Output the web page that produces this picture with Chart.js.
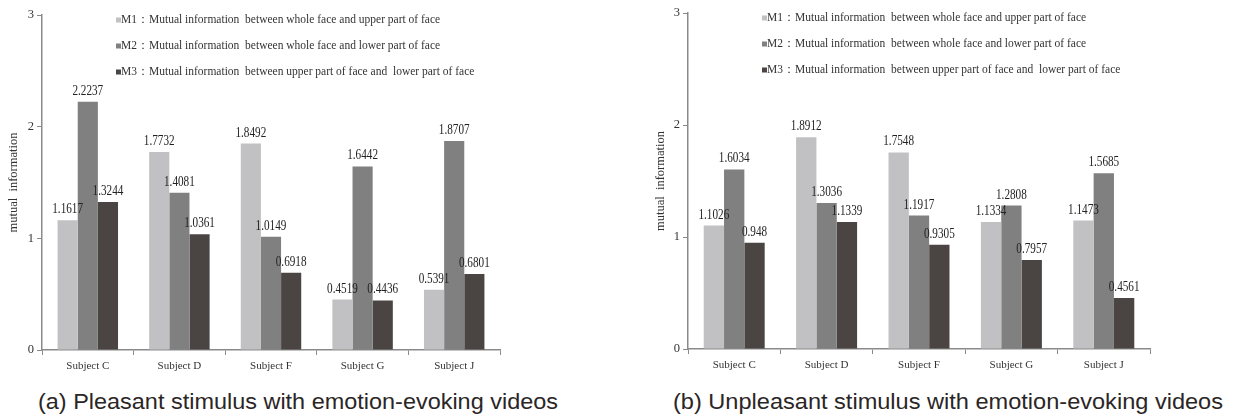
<!DOCTYPE html>
<html>
<head>
<meta charset="utf-8">
<script src="https://cdn.jsdelivr.net/npm/chart.js@4.4.1/dist/chart.umd.min.js"></script>
<style>
  html, body { margin: 0; padding: 0; background: #fff; }
  body { width: 1248px; height: 419px; position: relative; overflow: hidden; }
  .panel { position: absolute; top: 0; width: 624px; height: 380px; }
  .caption {
    position: absolute; top: 389px; white-space: nowrap;
    font-family: "Liberation Sans", Arial, sans-serif; font-size: 22px; line-height: 26px;
    color: #2b2626; transform-origin: left top;
  }
</style>
</head>
<body>
<div class="panel" style="left:0"><canvas id="pleasantChart" width="624" height="380"></canvas></div>
<div class="panel" style="left:624px"><canvas id="unpleasantChart" width="624" height="380"></canvas></div>
<div class="caption" id="capA" data-w="520" style="left:38px">(a) Pleasant stimulus with emotion-evoking videos</div>
<div class="caption" id="capB" data-w="550" style="left:673px">(b) Unpleasant stimulus with emotion-evoking videos</div>

<script>
/* ===============================
   DATA
================================= */
const subjects = ['Subject C', 'Subject D', 'Subject F', 'Subject G', 'Subject J'];
const seriesNames = [
    'M1\uFF1AMutual information  between whole face and upper part of face',
    'M2\uFF1AMutual information  between whole face and lower part of face',
    'M3\uFF1AMutual information  between upper part of face and  lower part of face'
];
const yTicks = [0, 1, 2, 3];

const pleasantM1 = [1.1617, 1.7732, 1.8492, 0.4519, 0.5391];
const pleasantM2 = [2.2237, 1.4081, 1.0149, 1.6442, 1.8707];
const pleasantM3 = [1.3244, 1.0361, 0.6918, 0.4436, 0.6801];

const unpleasantM1 = [1.1026, 1.8912, 1.7548, 1.1334, 1.1473];
const unpleasantM2 = [1.6034, 1.3036, 1.1917, 1.2808, 1.5685];
const unpleasantM3 = [0.948, 1.1339, 0.9305, 0.7957, 0.4561];

const barColors = ['#c1c1c3', '#808080', '#4a4543'];
const axisColor = '#8a8a8a';
const serif = '"Liberation Serif", "Times New Roman", serif';

/* ===============================
   PLUGIN: value labels + legend
================================= */
const labelsAndLegend = {
    id: 'labelsAndLegend',
    afterDatasetsDraw(chart) {
        const ctx = chart.ctx;
        const area = chart.chartArea;
        ctx.save();

        // values above each bar, in a narrowed serif
        ctx.font = '14px ' + serif;
        ctx.fillStyle = '#222';
        ctx.textAlign = 'center';
        ctx.textBaseline = 'alphabetic';
        chart.data.datasets.forEach((ds, i) => {
            chart.getDatasetMeta(i).data.forEach((bar, j) => {
                ctx.save();
                ctx.translate(bar.x, bar.y - 7);
                ctx.scale(0.8, 1);
                ctx.fillText(String(ds.data[j]), 0, 0);
                ctx.restore();
            });
        });

        // legend rows in the upper part of the plot
        ctx.font = '11.5px ' + serif;
        ctx.textAlign = 'left';
        ctx.textBaseline = 'middle';
        const lx = area.left + 74;
        chart.data.datasets.forEach((ds, i) => {
            const ly = area.top + 5 + i * 26;
            ctx.fillStyle = ds.backgroundColor;
            ctx.fillRect(lx, ly - 2.5, 5, 5);
            ctx.fillStyle = '#333';
            ctx.fillText(ds.label, lx + 5, ly);
        });
        ctx.restore();
    }
};

/* ===============================
   CHART FACTORY
================================= */
function makeChart(canvasId, series, pad, yWidth) {
    const ctx = document.getElementById(canvasId).getContext('2d');
    return new Chart(ctx, {
        type: 'bar',
        data: {
            labels: subjects,
            datasets: series.map((data, i) => ({
                label: seriesNames[i],
                data: data,
                backgroundColor: barColors[i],
                borderWidth: 0,
                categoryPercentage: 0.66,
                barPercentage: 1.0
            }))
        },
        options: {
            responsive: false,
            animation: false,
            layout: { padding: pad },
            plugins: {
                legend: { display: false },
                tooltip: { enabled: false }
            },
            scales: {
                x: {
                    afterFit: scale => { scale.height = 30; },
                    grid: {
                        offset: true,
                        drawOnChartArea: false,
                        tickLength: 5,
                        color: axisColor
                    },
                    border: { color: axisColor, width: 1.5 },
                    ticks: { color: '#333', font: { family: serif, size: 11 }, padding: 5 }
                },
                y: {
                    min: yTicks[0],
                    max: yTicks[yTicks.length - 1],
                    afterFit: scale => { scale.width = yWidth; },
                    afterBuildTicks: scale => { scale.ticks = yTicks.map(v => ({ value: v })); },
                    grid: {
                        drawOnChartArea: false,
                        tickLength: 5,
                        color: axisColor
                    },
                    border: { color: axisColor, width: 1.5 },
                    ticks: { color: '#333', font: { family: serif, size: 12.5 }, padding: 3 },
                    title: {
                        display: true,
                        text: 'mutual  information',
                        color: '#333',
                        font: { family: serif, size: 12.5 },
                        padding: { top: 4, bottom: 4 }
                    }
                }
            }
        },
        plugins: [labelsAndLegend]
    });
}

makeChart('pleasantChart', [pleasantM1, pleasantM2, pleasantM3],
    { left: 2, right: 124, top: 15, bottom: 0 }, 40);
makeChart('unpleasantChart', [unpleasantM1, unpleasantM2, unpleasantM3],
    { left: 25, right: 98, top: 13, bottom: 1 }, 39);

/* ===============================
   CAPTIONS (fit to width)
================================= */
document.querySelectorAll('.caption').forEach(el => {
    const target = Number(el.dataset.w);
    const w = el.getBoundingClientRect().width;
    el.style.transform = 'scaleX(' + (target / w) + ')';
});
</script>
</body>
</html>
